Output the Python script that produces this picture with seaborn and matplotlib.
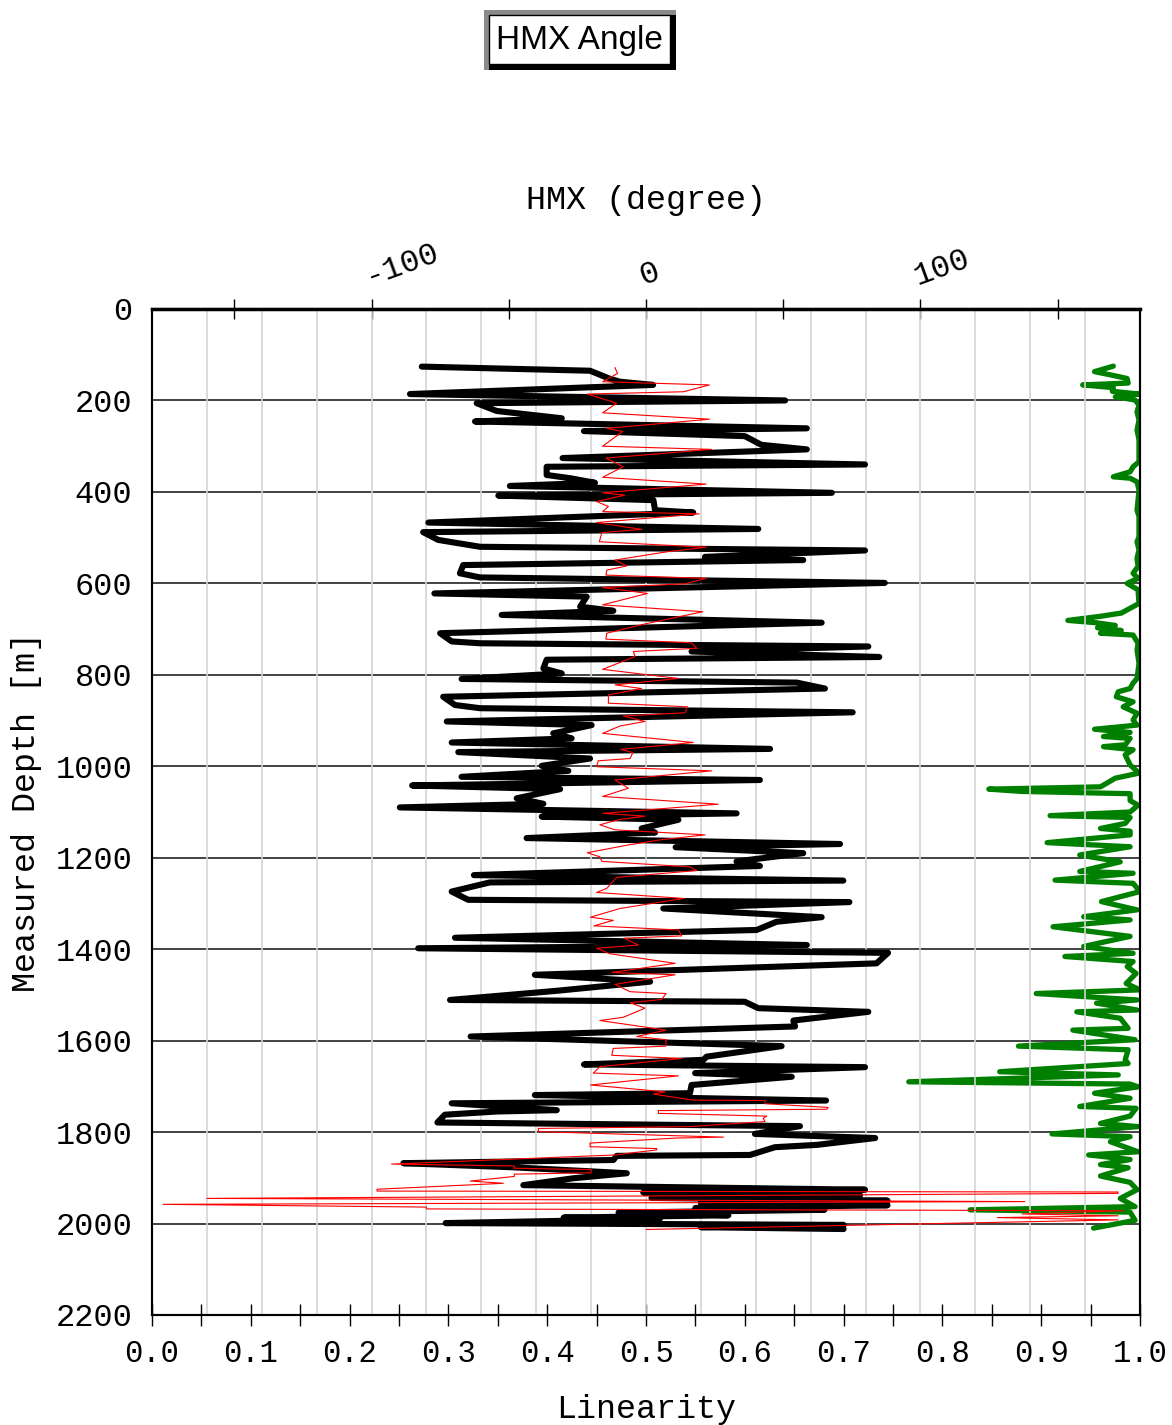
import matplotlib
matplotlib.use("Agg")
import matplotlib.pyplot as plt
from matplotlib.patches import Rectangle
from matplotlib.ticker import MultipleLocator, FixedLocator, FuncFormatter
import seaborn as sns
import pandas as pd

# ---------------- data (depth [m], value) ----------------
# HMX angle, thick black trace (degree)
hmx_black = [
    (126, -81.7), (135, -20.4), (153, -13), (159, -9.5), (166, 2.6), (186, -86),
    (200, 50.7), (206, -61.7), (223, -54.4), (239, -30.7), (246, -62.3), (261, 58.6),
    (267, -22.6), (278, 36), (297, 42), (307, 58.6), (326, -30.4), (340, 79.8),
    (345, -36.2), (363, -36.2), (370, -27.7), (380, -18.6), (387, -49.6), (402, 67.7),
    (408, -53.8), (418, 2.7), (440, 3.3), (445, 17.2), (467, -79.3), (481, 40.9),
    (488, -81.2), (505, -75.7), (520, -60.5), (528, 79.8), (542, 21.5), (549, 57.3),
    (560, -66.6), (578, -67.8), (587, -60.5), (599, 87), (622, -77.1), (629, -21.6),
    (651, -24), (660, -11.9), (669, -52.6), (686, 64), (709, -75), (727, -70.8),
    (731, -60.5), (738, 81), (749, 16.6), (761, 85), (767, -36.2), (786, -37.4),
    (797, -30.7), (809, -67.2), (817, 54.9), (830, 65.2), (848, -73.9), (866, -69.6),
    (873, -60.5), (882, 75.3), (902, -72.6), (910, -19.8), (928, -33.8), (939, -27.1),
    (948, -70.8), (962, 45.2), (969, -68.4), (983, -20.4), (999, -38), (1010, -28.3),
    (1023, -67.2), (1030, 41.5), (1042, -85.2), (1050, -31.3), (1070, -47.1), (1082, -37.4),
    (1090, -89.7), (1103, 33), (1110, -38), (1117, 11.8), (1136, -1.6), (1145, 3.3),
    (1157, -43.5), (1170, 70.7), (1177, 10.8), (1190, 57.3), (1208, 33), (1218, 41.5),
    (1238, -62.7), (1250, 71.9), (1254, -56.9), (1274, -70.8), (1292, -64.8), (1297, 74.1),
    (1311, 6.3), (1330, 64), (1340, 47.6), (1358, 40.3), (1375, -69.6), (1391, 58.6),
    (1398, -83), (1408, 88.2), (1431, 84), (1456, -40.5), (1471, 1.5), (1491, -32.5),
    (1511, -71.4), (1515, 36), (1529, 40.9), (1537, 81), (1556, 53.7), (1569, 54.3),
    (1591, -63.9), (1612, 49.4), (1635, 22.1), (1642, 20.9), (1652, -22.6), (1658, 79.8),
    (1671, 17.9), (1679, 53.1), (1697, 16.6), (1715, 16), (1719, -40.5), (1731, 65.6),
    (1737, -70.8), (1752, -32.5), (1755, -54.4), (1762, -73.3), (1779, -76), (1787, 56.1),
    (1804, 39.7), (1813, 83.5), (1828, 62.2), (1833, 47), (1850, 37.9), (1852, -10.7),
    (1861, -11.9), (1868, -88.4), (1877, -48.4), (1890, -7), (1901, -26.5), (1916, -44.7),
    (1926, 79.8), (1932, -1), (1938, 78), (1944, 2), (1950, 88), (1955, 20),
    (1960, 88), (1966, 18), (1970, 65), (1976, -10), (1982, 30), (1987, -30),
    (1990, 5), (1999, -73), (2003, 72), (2008, 20), (2012, 72),
]

# second HMX trace, thin red (degree)
hmx_red = [
    (128, -11.3), (141, -10.4), (159, -15.8), (166, 23.1), (181, 13.6), (186, -21.4),
    (206, -10.7), (227, -15.8), (241, 23.1), (261, -14.3), (268, -8.5), (300, -15.8),
    (307, 23.9), (326, -14.6), (345, -8.3), (368, -15.8), (383, 21.9), (402, -15.8),
    (407, -7.7), (421, -18), (432, -13.7), (443, -15.8), (448, 19.4), (467, -18),
    (482, -1.6), (489, -16.1), (509, -17), (521, 21.9), (531, 7.5), (549, -11.3),
    (562, -7), (571, -14.3), (582, -14.6), (589, 21.9), (601, 14.2), (609, -15.8),
    (622, 0.5), (647, -15.8), (662, 20.7), (688, 0.2), (709, -14.3), (722, -14.6),
    (730, 16.6), (742, 18.5), (749, -4.6), (760, -4), (788, -15.8), (808, 11.8),
    (822, -11.3), (830, -1.6), (844, -13.7), (862, -13.7), (870, 15.1), (883, 14.2),
    (890, -8.3), (902, -0.4), (912, -9.5), (928, -15.8), (948, 17.2), (963, -9.2),
    (970, -4.8), (983, -5.8), (988, -17.4), (1001, -18), (1010, 23.9), (1030, -11.3),
    (1048, -6.4), (1066, -15.8), (1083, 26.3), (1103, -15.8), (1109, -0.4), (1117, -10.1),
    (1128, -16.8), (1139, -11.3), (1150, 21.5), (1161, 5.1), (1172, -6.4), (1189, -21.4),
    (1198, -16.8), (1208, -16.1), (1220, 16), (1228, 18.5), (1243, -10.7), (1267, -14.3),
    (1276, -18), (1289, 13.8), (1311, -9.5), (1330, -20.2), (1337, -11.9), (1349, -19),
    (1358, 11.8), (1371, 13), (1376, -8), (1391, -2.8), (1398, -18), (1410, -13.1),
    (1431, 10.6), (1451, -12.5), (1456, 10.6), (1477, -11.3), (1493, -5.8), (1497, 7.3),
    (1510, 5.7), (1517, -5.8), (1529, -0.4), (1549, -8.3), (1556, -16.8), (1577, 7.3),
    (1591, -3.4), (1598, 7.3), (1612, 7.3), (1617, -11.9), (1632, -12.5), (1639, 13),
    (1657, -16.8), (1671, -19.2), (1677, 11.8), (1697, -20.2), (1712, 6.9), (1717, 2.7),
    (1730, 17.2), (1731, 43.4), (1738, 43.4), (1746, 66.4), (1750, 65.9), (1753, 4.5),
    (1759, 4.5), (1765, 44), (1770, 42.7), (1777, 43.4), (1788, 16), (1792, -39.2),
    (1799, -39.2), (1811, 28.2), (1813, 11.2), (1824, -20.4), (1832, -20.4), (1836, 3.9),
    (1839, 3.9), (1845, -4.6), (1850, -11.3), (1870, -92.7), (1874, -48), (1879, -48),
    (1882, -20), (1889, -20), (1892, -48), (1897, -48), (1907, -64), (1912, -52),
    (1925, -98), (1929, -98), (1931, 172), (1934, 172), (1945, -160), (1952, 138),
    (1958, -176), (1964, -80), (1968, -80), (1972, 174), (1979, 137), (1983, 172),
    (1987, 128), (1992, 172), (2013, 0),
]

# linearity, green trace
linearity = [
    (125, 0.973), (137, 0.954), (144, 0.970), (152, 0.987), (162, 0.988), (166, 0.942),
    (172, 0.973), (180, 0.972), (186, 0.999), (192, 0.975), (199, 0.995), (210, 0.999),
    (225, 0.997), (243, 0.999), (265, 0.997), (286, 0.999), (334, 0.999), (345, 0.993),
    (356, 0.990), (367, 0.973), (370, 0.990), (378, 0.997), (396, 0.999), (440, 0.997),
    (454, 0.999), (498, 0.999), (509, 0.997), (527, 0.999), (545, 0.997), (563, 0.998),
    (578, 0.993), (589, 0.998), (600, 0.987), (614, 0.998), (644, 0.999), (665, 0.981),
    (672, 0.960), (681, 0.927), (686, 0.955), (692, 0.975), (697, 0.957), (703, 0.981),
    (709, 0.960), (713, 0.993), (731, 0.998), (746, 0.997), (775, 0.999), (808, 0.997),
    (818, 0.993), (830, 0.990), (837, 0.978), (848, 0.976), (859, 0.993), (870, 0.983),
    (884, 0.997), (899, 0.993), (910, 0.997), (919, 0.954), (926, 0.990), (935, 0.963),
    (939, 0.990), (953, 0.985), (957, 0.963), (964, 0.993), (975, 0.985), (997, 0.990),
    (1015, 0.999), (1026, 0.975), (1045, 0.960), (1050, 0.847), (1055, 0.880), (1060, 0.990),
    (1075, 0.990), (1085, 0.998), (1100, 0.990), (1108, 0.909), (1112, 0.990), (1125, 0.985),
    (1136, 0.960), (1142, 0.990), (1150, 0.990), (1167, 0.906), (1176, 0.990), (1194, 0.939),
    (1209, 0.980), (1230, 0.939), (1234, 0.993), (1249, 0.914), (1256, 0.993), (1274, 1.000),
    (1296, 0.961), (1314, 0.997), (1329, 0.943), (1336, 0.990), (1351, 0.912), (1372, 0.990),
    (1394, 0.943), (1409, 0.993), (1416, 0.924), (1427, 0.993), (1438, 0.987), (1453, 0.996),
    (1475, 0.986), (1489, 1.000), (1497, 0.895), (1511, 0.997), (1518, 0.956), (1533, 0.997),
    (1537, 0.936), (1551, 0.980), (1573, 0.988), (1577, 0.932), (1598, 0.995), (1612, 0.877),
    (1620, 0.988), (1642, 0.985), (1650, 0.988), (1668, 0.858), (1675, 0.978), (1682, 0.880),
    (1690, 0.766), (1695, 0.990), (1701, 0.998), (1715, 0.954), (1726, 0.990), (1744, 0.939),
    (1748, 0.996), (1765, 0.990), (1781, 0.960), (1788, 0.998), (1804, 0.911), (1810, 0.990),
    (1821, 0.970), (1843, 0.998), (1850, 0.948), (1860, 0.990), (1871, 0.960), (1878, 0.988),
    (1896, 0.960), (1910, 0.990), (1926, 0.997), (1945, 0.980), (1963, 0.995), (1970, 0.828),
    (1975, 0.990), (1993, 0.995), (2010, 0.953),
]

df_black = pd.DataFrame(hmx_black, columns=["depth", "angle"])
df_red = pd.DataFrame(hmx_red, columns=["depth", "angle"])
df_lin = pd.DataFrame(linearity, columns=["depth", "linearity"])

# ---------------- style ----------------
sns.set_style("white")
plt.rcParams['font.family'] = ['Liberation Mono', 'DejaVu Sans Mono']
plt.rcParams['axes.unicode_minus'] = False
plt.rcParams['text.color'] = 'black'
plt.rcParams['axes.labelcolor'] = 'black'

W, H = 1172, 1425
fig = plt.figure(figsize=(W / 100, H / 100), dpi=100)
ax = fig.add_axes([152 / W, 1 - 1315 / H, 988 / W, 1006 / H])
ax2 = ax.twiny()

# linearity on the bottom axis
sns.lineplot(data=df_lin, x="linearity", y="depth", sort=False, estimator=None,
             color="#008000", linewidth=3.8, ax=ax)

# HMX traces on the top axis
sns.lineplot(data=df_black, x="angle", y="depth", sort=False, estimator=None,
             color="black", linewidth=4.4, ax=ax2)
sns.lineplot(data=df_red, x="angle", y="depth", sort=False, estimator=None,
             color="red", linewidth=0.8, ax=ax2)

ax.set_xlim(0, 1)
ax.set_ylim(2200, 0)
ax2.set_xlim(-180, 180)

# bottom / left ticks
ax.xaxis.set_major_locator(MultipleLocator(0.1))
ax.xaxis.set_minor_locator(MultipleLocator(0.05))
ax.xaxis.set_major_formatter(FuncFormatter(lambda v, p: f"{v:.1f}"))
ax.yaxis.set_major_locator(MultipleLocator(200))
ax.yaxis.set_minor_locator(MultipleLocator(100))
ax.tick_params(axis="both", which="both", direction="inout", length=16, width=1,
               colors="black")
ax.tick_params(axis="x", which="major", pad=9, labelsize=22)
ax.tick_params(axis="y", which="major", pad=6, labelsize=23)
ax.grid(axis="y", which="major", color="#222222", linewidth=1.2)
ax.grid(axis="x", visible=False)

# top HMX ticks: marks every 50, labels every 100, grey grid every 20
ax2.xaxis.set_major_locator(FixedLocator([-150, -100, -50, 0, 50, 100, 150]))
ax2.xaxis.set_major_formatter(FuncFormatter(lambda v, p: f"{v:.0f}" if v % 100 == 0 else ""))
ax2.xaxis.set_minor_locator(MultipleLocator(20))
ax2.xaxis.remove_overlapping_locs = False
ax2.tick_params(axis="x", which="major", direction="inout", length=15, width=1,
                colors="black", labelsize=23, pad=5, labelrotation=20)
ax2.tick_params(axis="x", which="minor", length=0)
for lab in ax2.get_xticklabels():
    lab.set_ha("left")
    lab.set_rotation_mode("anchor")
ax2.grid(axis="x", which="minor", color="#d4d4d4", linewidth=1.2)
ax2.set_axisbelow(True)

for a in (ax, ax2):
    for side, sp in a.spines.items():
        sp.set_visible(True)
        sp.set_color("black")
        sp.set_linewidth(1.5)
ax2.spines["top"].set_linewidth(2.5)

ax.set_ylabel("Measured Depth [m]", fontsize=24, labelpad=10)
ax.set_xlabel("Linearity", fontsize=24, labelpad=18)
ax2.set_xlabel("HMX (degree)", fontsize=24, labelpad=20)


# boxed title with bevel/shadow
def px_rect(x0, y0, x1, y1, **kw):
    fig.patches.append(Rectangle((x0 / W, 1 - y1 / H), (x1 - x0) / W, (y1 - y0) / H,
                                 transform=fig.transFigure, figure=fig, **kw))


px_rect(484, 10, 676, 70, facecolor="#8a8a8a", edgecolor="none")
px_rect(489, 15, 676, 70, facecolor="black", edgecolor="none")
px_rect(489, 15, 670, 64, facecolor="white", edgecolor="black", linewidth=1)
fig.text(579.5 / W, 1 - 40 / H, "HMX Angle", family=["Liberation Sans", "DejaVu Sans"],
         fontsize=24, ha="center", va="center")

fig.savefig("out.png", dpi=100)
